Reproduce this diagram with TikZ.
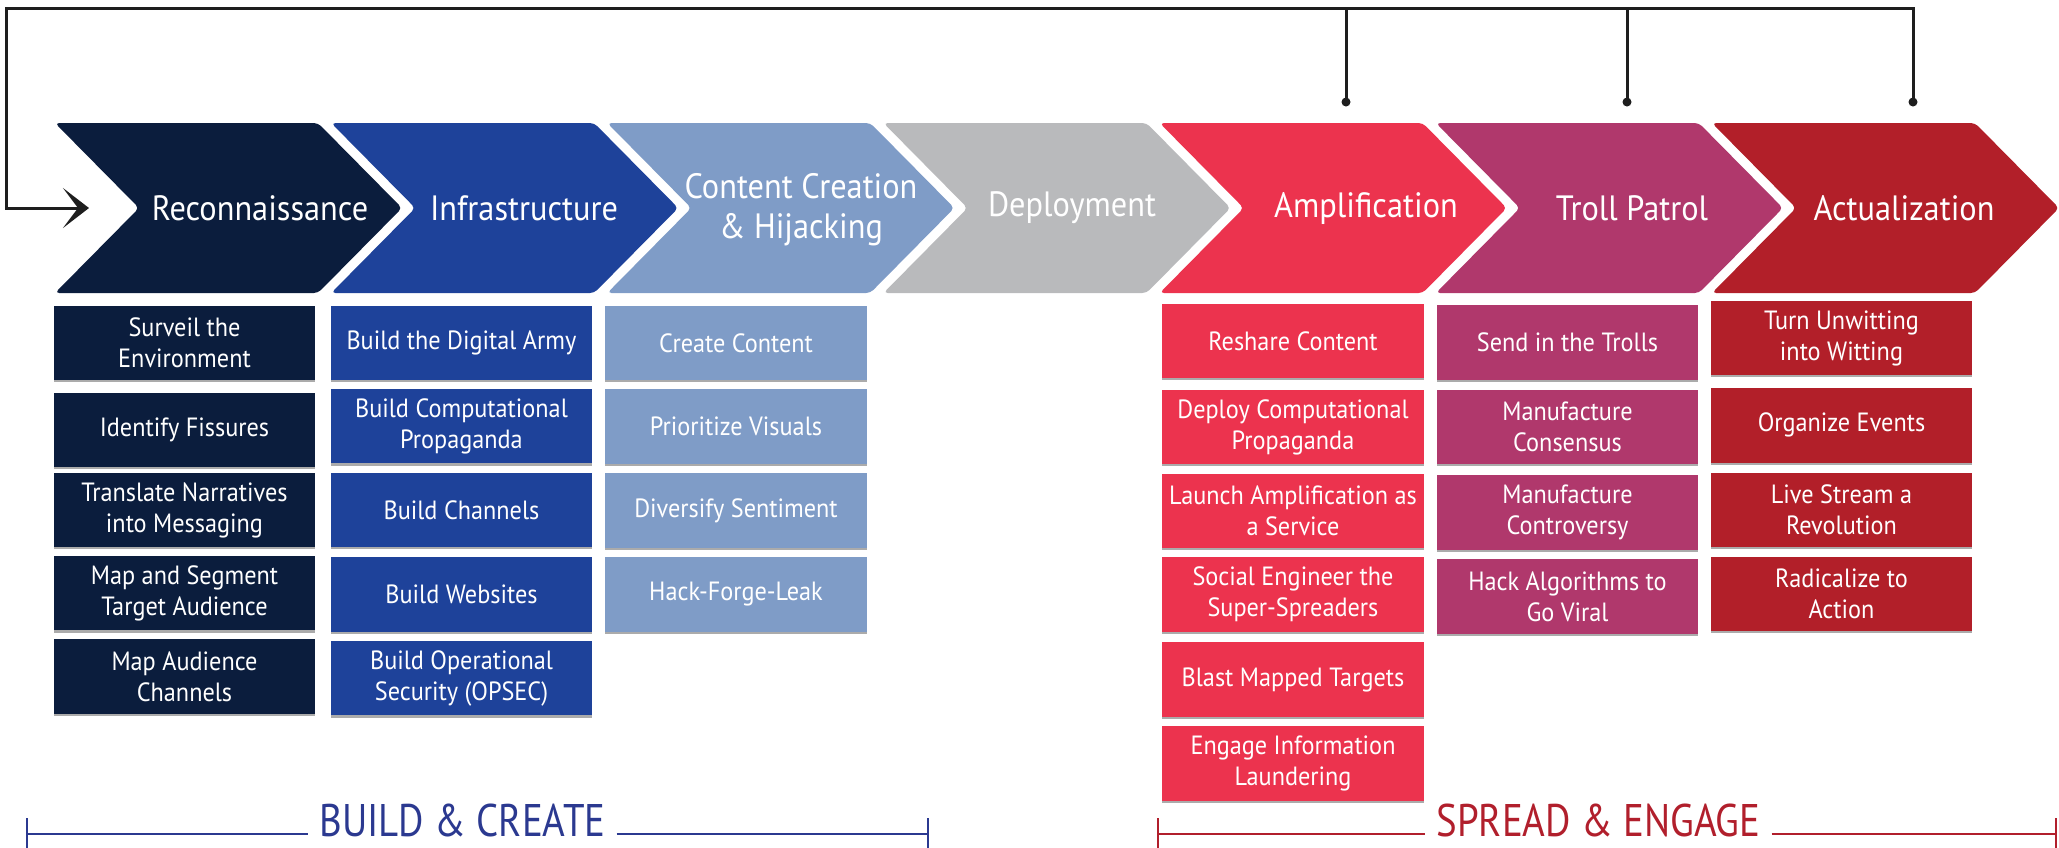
\documentclass[tikz,border=0pt]{standalone}
\usepackage{fontspec}
\setmainfont{PT Sans}[FakeStretch=0.92]
\newfontfamily\bracefont{PT Sans}[FakeStretch=0.85]
\usetikzlibrary{arrows.meta,shadows}
\definecolor{cRec}{HTML}{0B1D3D}
\definecolor{cInf}{HTML}{1E429A}
\definecolor{cCon}{HTML}{7F9CC7}
\definecolor{cDep}{HTML}{B9BABC}
\definecolor{cAmp}{HTML}{EC334E}
\definecolor{cTro}{HTML}{B0386C}
\definecolor{cAct}{HTML}{B21F29}
\definecolor{cBuild}{HTML}{2B3990}
\definecolor{cSpread}{HTML}{B11F2C}
\definecolor{ink}{HTML}{1E1E1E}
\newcommand\mychev[2]{\fill[#2, rounded corners=1.2pt] (#1,123) -- ++(263,0) -- ++(84,85) -- ++(-84,85) -- ++(-263,0) -- ++(84,-85) -- cycle;}
\begin{document}
\begin{tikzpicture}[x=0.01cm,y=-0.01cm,
  box/.style={rectangle, minimum width=2.61cm, minimum height=0.745cm, inner sep=0pt,
    text=white, align=center, font=\fontsize{7.5}{8.8}\selectfont,
    drop shadow={shadow xshift=0pt, shadow yshift=-0.6pt, opacity=0.55, fill=black!60}},
  chevtext/.style={text=white, align=center, font=\fontsize{10}{11.4}\selectfont, inner sep=0pt},
  dot/.style={circle, fill=ink, inner sep=0pt, minimum size=0.09cm},
  fb/.style={draw=ink, line width=0.85pt, line join=miter},
  bracetext/.style={font=\bracefont\fontsize{13}{15}\selectfont, inner xsep=3pt, inner ysep=0pt, anchor=base},
  brace/.style={line width=0.8pt}
]
\useasboundingbox (0,0) rectangle (2059,847);

% chevrons
\mychev{55}{cRec}
\mychev{331.2}{cInf}
\mychev{607.3}{cCon}
\mychev{883.5}{cDep}
\mychev{1159.7}{cAmp}
\mychev{1435.9}{cTro}
\mychev{1712}{cAct}

\node[chevtext] (recon) at (260,208) {Reconnaissance};
\node[chevtext] (infra) at (524,208) {Infrastructure};
\node[chevtext] (content) at (801,210) {Content Creation\\\& Hijacking};
\node[chevtext] (deploy) at (1072,208) {Deployment};
\node[chevtext] (amp) at (1366,208) {Amplification};
\node[chevtext] (troll) at (1632,208) {Troll Patrol};
\node[chevtext] (actu) at (1904,208) {Actualization};

% feedback loop
\node[dot] (d1) at (1346,102) {};
\node[dot] (d2) at (1627,102) {};
\node[dot] (d3) at (1913,102) {};
\coordinate (topR) at (1913,8);
\coordinate (topL) at (6.5,8);
\coordinate (fbEnd) at (89,208);
\draw[fb] (d1.center) -- (d1.center |- topL);
\draw[fb] (d2.center) -- (d2.center |- topL);
\draw[fb, -{Stealth[length=0.26cm, width=0.40cm, inset=0.15cm]}] (d3.center) -- (topR) -- (topL) |- (fbEnd);

% Reconnaissance column
\node[box, fill=cRec] (r1) at (184.5,342.9) {Surveil the\\Environment};
\node[box, fill=cRec] (r2) at (184.5,430) {Identify Fissures};
\node[box, fill=cRec] (r3) at (184.5,510) {Translate Narratives\\into Messaging};
\node[box, fill=cRec] (r4) at (184.5,593.2) {Map and Segment\\Target Audience};
\node[box, fill=cRec] (r5) at (184.5,676.5) {Map Audience\\Channels};

% Infrastructure column
\node[box, fill=cInf] (i1) at (461.5,342.9) {Build the Digital Army};
\node[box, fill=cInf] (i2) at (461.5,426.2) {Build Computational\\Propaganda};
\node[box, fill=cInf] (i3) at (461.5,510) {Build Channels};
\node[box, fill=cInf] (i4) at (461.5,594.4) {Build Websites};
\node[box, fill=cInf] (i5) at (461.5,678.2) {Build Operational\\Security (OPSEC)};

% Content column
\node[box, fill=cCon] (c1) at (736,342.9) {Create Content};
\node[box, fill=cCon] (c2) at (736,426.5) {Prioritize Visuals};
\node[box, fill=cCon] (c3) at (736,510.5) {Diversify Sentiment};
\node[box, fill=cCon] (c4) at (736,594.4) {Hack-Forge-Leak};

% Amplification column
\node[box, fill=cAmp] (a1) at (1293,341) {Reshare Content};
\node[box, fill=cAmp] (a2) at (1293,427) {Deploy Computational\\Propaganda};
\node[box, fill=cAmp] (a3) at (1293,510.8) {Launch Amplification as\\a Service};
\node[box, fill=cAmp] (a4) at (1293,594.6) {Social Engineer the\\Super-Spreaders};
\node[box, fill=cAmp] (a5) at (1293,679.5) {Blast Mapped Targets};
\node[box, fill=cAmp] (a6) at (1293,763.7) {Engage Information\\Laundering};

% Troll Patrol column
\node[box, fill=cTro] (t1) at (1567.5,342.7) {Send in the Trolls};
\node[box, fill=cTro] (t2) at (1567.5,427) {Manufacture\\Consensus};
\node[box, fill=cTro] (t3) at (1567.5,512.3) {Manufacture\\Controversy};
\node[box, fill=cTro] (t4) at (1567.5,596.7) {Hack Algorithms to\\Go Viral};

% Actualization column
\node[box, fill=cAct] (z1) at (1841.5,338) {Turn Unwitting\\into Witting};
\node[box, fill=cAct] (z2) at (1841.5,425.3) {Organize Events};
\node[box, fill=cAct] (z3) at (1841.5,509.9) {Live Stream a\\Revolution};
\node[box, fill=cAct] (z4) at (1841.5,594) {Radicalize to\\Action};

% brackets
\node[bracetext, text=cBuild] (build) at (462.5,836) {BUILD \& CREATE};
\coordinate (bL) at (27,834);
\coordinate (bR) at (928,834);
\draw[brace, cBuild] (bL) -- (bL -| build.west);
\draw[brace, cBuild] (bR -| build.east) -- (bR);
\draw[brace, cBuild] ([yshift=0.16cm]bL) -- ([yshift=-0.14cm]bL);
\draw[brace, cBuild] ([yshift=0.16cm]bR) -- ([yshift=-0.14cm]bR);

\node[bracetext, text=cSpread] (spread) at (1598.5,836) {SPREAD \& ENGAGE};
\coordinate (sL) at (1158,834);
\coordinate (sR) at (2056,834);
\draw[brace, cSpread] (sL) -- (sL -| spread.west);
\draw[brace, cSpread] (sR -| spread.east) -- (sR);
\draw[brace, cSpread] ([yshift=0.16cm]sL) -- ([yshift=-0.14cm]sL);
\draw[brace, cSpread] ([yshift=0.16cm]sR) -- ([yshift=-0.14cm]sR);
\end{tikzpicture}
\end{document}
